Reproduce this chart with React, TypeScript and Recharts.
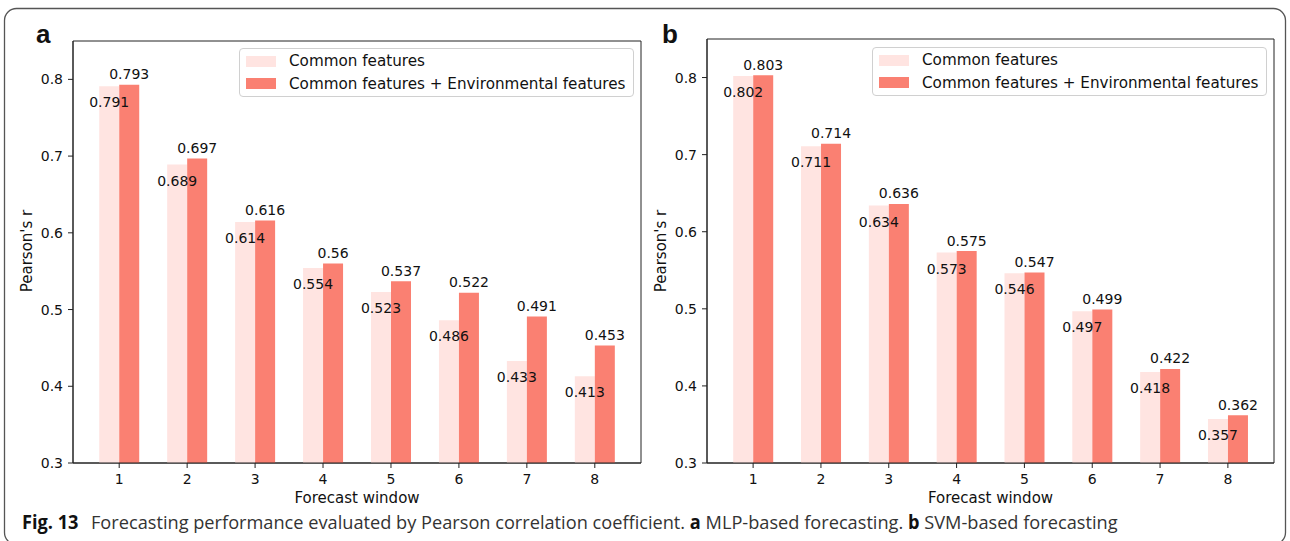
import React, { useLayoutEffect, useRef, useState } from 'react';
import { BarChart, Bar, XAxis, YAxis, LabelList, ReferenceArea } from 'recharts';

const categories = ['1', '2', '3', '4', '5', '6', '7', '8'];
const mlpCommon = [0.791, 0.689, 0.614, 0.554, 0.523, 0.486, 0.433, 0.413];
const mlpEnv = [0.793, 0.697, 0.616, 0.56, 0.537, 0.522, 0.491, 0.453];
const svmCommon = [0.802, 0.711, 0.634, 0.573, 0.546, 0.497, 0.418, 0.357];
const svmEnv = [0.803, 0.714, 0.636, 0.575, 0.547, 0.499, 0.422, 0.362];
const xPositions = [1, 2, 3, 4, 5, 6, 7, 8];
const yTicks = [0.3, 0.4, 0.5, 0.6, 0.7, 0.8];
const yDomain: [number, number] = [0.3, 0.85];
const xDomain: [number, number] = [0.32, 8.68];
const seriesNames = ['Common features', 'Common features + Environmental features'];

const LIGHT = '#FFE4E1';
const DARK = '#FA8072';
const AXIS = '#222';
const FONT = '"DejaVu Sans", sans-serif';

function buildData(common: number[], env: number[]) {
  return categories.map((c, i) => ({ x: xPositions[i], cat: c, common: common[i], env: env[i] }));
}

function makeLabels(data: { common: number; env: number }[]) {
  return (props: any) => {
    const { x, y, width, height, index } = props;
    const d = data[index];
    const bottom = y + height;
    const perUnit = height / (d.env - yDomain[0]);
    const lightTop = bottom - (d.common - yDomain[0]) * perUnit;
    return (
      <g>
        <text x={x - width / 2} y={lightTop + 21} textAnchor="middle" fontSize={14} fontFamily={FONT} fill="#111">
          {String(d.common)}
        </text>
        <text x={x + width / 2} y={y - 5.5} textAnchor="middle" fontSize={14} fontFamily={FONT} fill="#111">
          {String(d.env)}
        </text>
      </g>
    );
  };
}

function LegendBox({ left, top }: { left: number; top: number }) {
  const row = (color: string, label: string, cy: number) => (
    <div style={{ position: 'absolute', left: 0, top: cy - 10, height: 20, width: '100%' }}>
      <div style={{ position: 'absolute', left: 6, top: 4.5, width: 30, height: 11, background: color }} />
      <div
        style={{
          position: 'absolute',
          left: 49,
          top: 0,
          lineHeight: '20px',
          fontSize: 15.2,
          fontFamily: FONT,
          color: '#111',
          whiteSpace: 'nowrap',
        }}
      >
        {label}
      </div>
    </div>
  );
  return (
    <div
      style={{
        position: 'absolute',
        left,
        top,
        width: 395,
        height: 49,
        border: '1px solid #d0d0d0',
        borderRadius: 4,
        background: 'rgba(255,255,255,0.85)',
        boxSizing: 'border-box',
      }}
    >
      {row(LIGHT, seriesNames[0], 12)}
      {row(DARK, seriesNames[1], 34.5)}
    </div>
  );
}

function Panel({
  common,
  env,
  left,
  width,
  margin,
  legendLeft,
  legendTop,
}: {
  common: number[];
  env: number[];
  left: number;
  width: number;
  margin: { top: number; right: number; left: number; bottom: number };
  legendLeft: number;
  legendTop: number;
}) {
  const data = buildData(common, env);
  return (
    <div style={{ position: 'absolute', left, top: 0, width, height: 541 }}>
      <BarChart width={width} height={541} data={data} margin={margin} barGap={0} barSize={20}>
        <XAxis
          dataKey="x"
          type="number"
          domain={xDomain}
          ticks={xPositions}
          allowDataOverflow
          tickFormatter={(v: number) => categories[v - 1]}
          tickSize={5}
          tickMargin={6}
          height={27}
          stroke={AXIS}
          tick={{ fontSize: 14, fontFamily: FONT, fill: '#111' }}
          tickLine={{ stroke: AXIS }}
          axisLine={{ stroke: AXIS, strokeWidth: 1 }}
        />
        <YAxis
          domain={yDomain}
          ticks={yTicks}
          allowDataOverflow
          width={60}
          tickSize={5}
          tickMargin={5}
          tick={{ fontSize: 14, fontFamily: FONT, fill: '#111' }}
          tickLine={{ stroke: AXIS }}
          axisLine={{ stroke: AXIS }}
          tickFormatter={(v: number) => v.toFixed(1)}
        />
        <ReferenceArea
          x1={xDomain[0]}
          x2={xDomain[1]}
          y1={yDomain[0]}
          y2={yDomain[1]}
          fill="none"
          fillOpacity={0}
          stroke={AXIS}
          strokeWidth={1}
          ifOverflow="visible"
        />
        <Bar dataKey="common" fill={LIGHT} isAnimationActive={false} />
        <Bar dataKey="env" fill={DARK} isAnimationActive={false}>
          <LabelList dataKey="env" content={makeLabels(data)} />
        </Bar>
      </BarChart>
      <LegendBox left={legendLeft} top={legendTop} />
    </div>
  );
}

const captionFont = '"Open Sans", "Noto Sans", sans-serif';
const CAPTION_WIDTH = 1096;

function Caption() {
  const ref = useRef<SVGTextElement>(null);
  const [sx, setSx] = useState(1);
  useLayoutEffect(() => {
    if (ref.current) {
      const w = ref.current.getBBox().width;
      if (w > 0) setSx(CAPTION_WIDTH / w);
    }
  }, []);
  return (
    <text
      ref={ref}
      x={0}
      y={0}
      transform={`translate(22,529) scale(${sx},1)`}
      fontFamily={captionFont}
      fontSize={19}
      fill="#333"
    >
      <tspan fontWeight="bold" fill="#111">Fig. 13</tspan>
      <tspan dx={13}>Forecasting performance evaluated by Pearson correlation coefficient. </tspan>
      <tspan fontWeight="bold" fill="#111">a</tspan>
      <tspan> MLP-based forecasting. </tspan>
      <tspan fontWeight="bold" fill="#111">b</tspan>
      <tspan> SVM-based forecasting</tspan>
    </text>
  );
}

export default function App() {
  return (
    <div style={{ position: 'absolute', left: 0, top: 0, width: 1290, height: 541, background: '#fff', overflow: 'hidden' }}>
      <Panel
        common={mlpCommon}
        env={mlpEnv}
        left={0}
        width={660}
        margin={{ top: 41, right: 19, left: 13, bottom: 51 }}
        legendLeft={239}
        legendTop={48}
      />
      <Panel
        common={svmCommon}
        env={svmEnv}
        left={640}
        width={650}
        margin={{ top: 39, right: 16, left: 7, bottom: 51 }}
        legendLeft={232}
        legendTop={47}
      />
      <svg width={1290} height={541} style={{ position: 'absolute', left: 0, top: 0, pointerEvents: 'none' }}>
        <rect x={4.5} y={8.5} width={1281} height={536} rx={12} ry={12} fill="none" stroke="#555" strokeWidth={1.3} />
        <text x={36} y={43} fontFamily='"Liberation Sans", Arial, sans-serif' fontWeight="bold" fontSize={26} fill="#111">a</text>
        <text x={662} y={43} fontFamily='"Liberation Sans", Arial, sans-serif' fontWeight="bold" fontSize={26} fill="#111">b</text>
        <text x={0} y={0} transform="translate(27,251) rotate(-90)" textAnchor="middle" dominantBaseline="central" fontFamily={FONT} fontSize={15} fill="#111">Pearson's r</text>
        <text x={0} y={0} transform="translate(661,251) rotate(-90)" textAnchor="middle" dominantBaseline="central" fontFamily={FONT} fontSize={15} fill="#111">Pearson's r</text>
        <text x={357} y={503} textAnchor="middle" fontFamily={FONT} fontSize={15} fill="#111">Forecast window</text>
        <text x={990.5} y={503} textAnchor="middle" fontFamily={FONT} fontSize={15} fill="#111">Forecast window</text>
        <Caption />
      </svg>
    </div>
  );
}
